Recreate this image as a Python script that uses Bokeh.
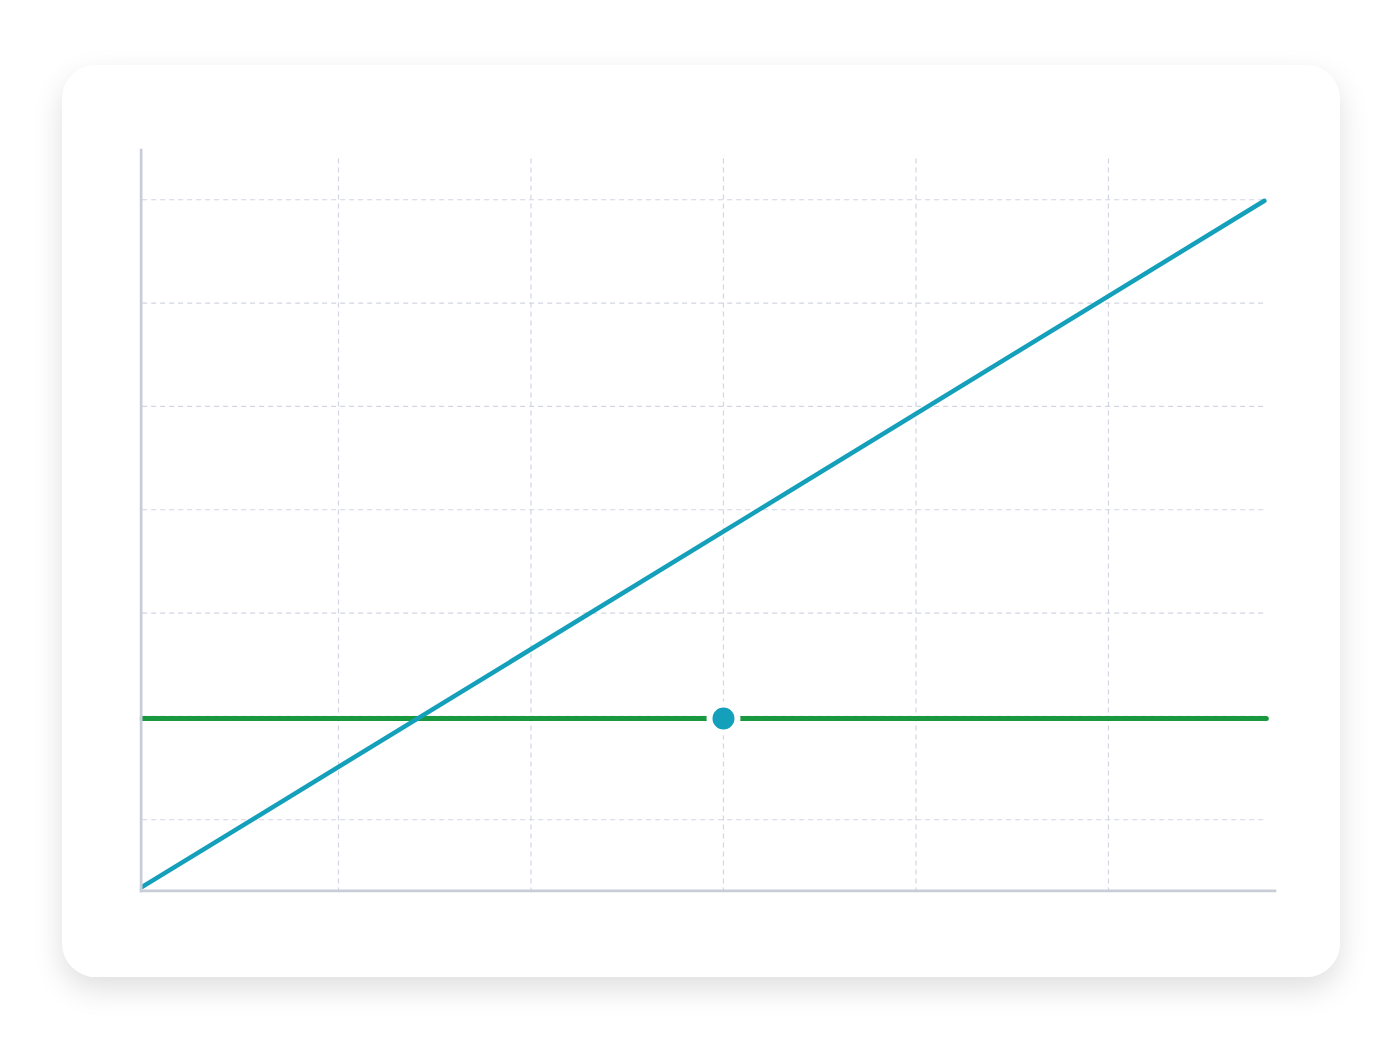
from bokeh.plotting import figure
from bokeh.models import Span, Range1d
from bokeh.embed import file_html
from bokeh.resources import INLINE

# ---- data ----
x_grid = [1, 2, 3, 4, 5]
y_grid = [1, 2, 3, 4, 5, 6, 7]

blue_x = [-0.02, 5.81]
blue_y = [0.35, 6.99]

green_x = [-0.02, 5.82]
green_y = [1.98, 1.98]

point_x = [3.0]
point_y = [1.98]

X_START, X_END = -0.0338, 5.873
Y_START, Y_END = 0.296, 7.496

BLUE = "#14a0bb"
GREEN = "#18993f"
GRID = "#d2d6e4"
AXIS = "#c8cdd8"

p = figure(
    width=1278, height=912,
    output_backend="svg", toolbar_location=None,
    x_range=Range1d(X_START, X_END), y_range=Range1d(Y_START, Y_END),
    x_axis_location=None, y_axis_location=None,
    min_border_left=77, min_border_right=64, min_border_top=83, min_border_bottom=85,
)
p.margin = (65, 0, 0, 62)
p.styles = {
    "border-radius": "34px",
    "box-shadow": "0 12px 30px rgba(0,0,0,0.13)",
    "overflow": "hidden",
}
p.background_fill_color = "white"
p.border_fill_color = "white"
p.outline_line_color = None
p.xgrid.visible = False
p.ygrid.visible = False

# dashed grid
p.segment(x0=x_grid, y0=[Y_START] * len(x_grid), x1=x_grid, y1=[7.4] * len(x_grid),
          line_color=GRID, line_width=1.2, line_dash="5 4")
p.segment(x0=[-0.02] * len(y_grid), y0=y_grid, x1=[5.81] * len(y_grid), y1=y_grid,
          line_color=GRID, line_width=1.2, line_dash="5 4")

# axis lines (kept fully inside the frame)
p.add_layout(Span(location=X_START + 1.5 / 192.5, dimension="height", line_color=AXIS, line_width=3))
p.add_layout(Span(location=Y_START + 1.5 / 103.33, dimension="width", line_color=AXIS, line_width=3))

# series
p.line(green_x, green_y, line_color=GREEN, line_width=5, line_cap="round")
p.line(blue_x, blue_y, line_color=BLUE, line_width=4.5, line_cap="round")
p.scatter(point_x, point_y, size=28, fill_color=BLUE, line_color="white", line_width=6)

open("out.html", "w").write(file_html(p, INLINE))
